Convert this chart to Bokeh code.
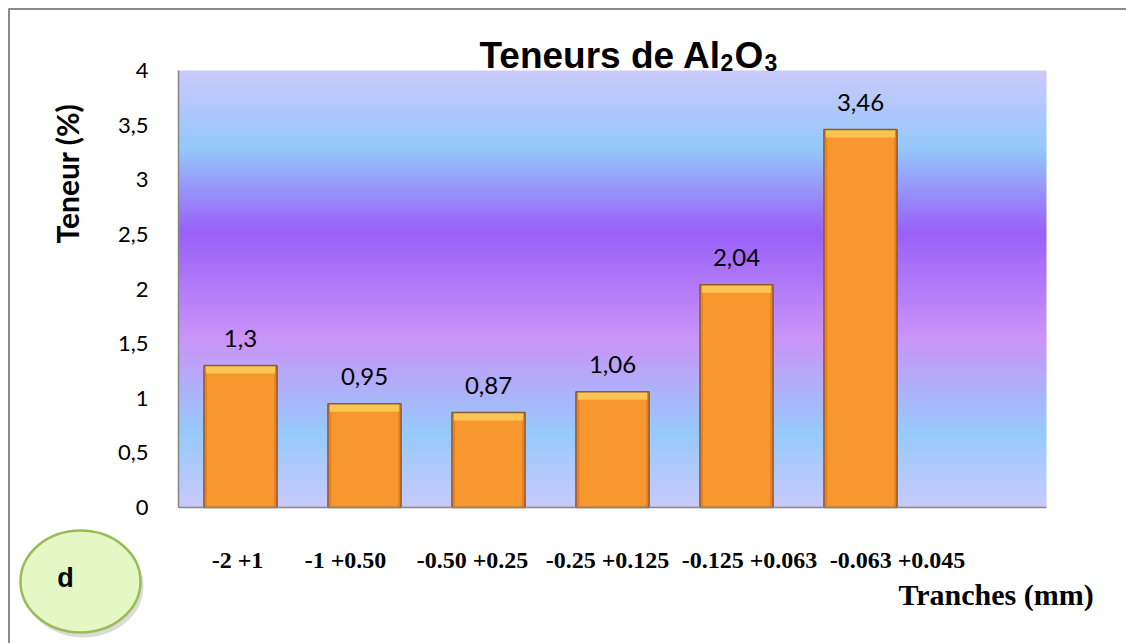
import math
import numpy as np
from bokeh.plotting import figure
from bokeh.models import Range1d, FixedTicker, CustomJSTickFormatter, ColumnDataSource
from bokeh.core.properties import value
from bokeh.embed import file_html
from bokeh.resources import INLINE

# ---------------- data ----------------
categories = ["-2  +1", "-1 +0.50", "-0.50 +0.25", "-0.25 +0.125",
              "-0.125 +0.063", "-0.063 +0.045"]
teneurs = [1.3, 0.95, 0.87, 1.06, 2.04, 3.46]
teneur_labels = ["1,3", "0,95", "0,87", "1,06", "2,04", "3,46"]
y_ticks = [0, 0.5, 1, 1.5, 2, 2.5, 3, 3.5, 4]
n_slots = 7  # Excel category slots (last one empty)

# ---------------- layout (page pixels) ----------------
W, H = 1126, 643
FL, FR, FT, FB = 178, 1046, 70, 507   # plot area on the page
YMAX = 4.0


def dx(px):
    return (px - FL) / (FR - FL) * n_slots


def dy(py):
    return (FB - py) / (FB - FT) * YMAX


UX = n_slots / (FR - FL)   # data units per pixel, x
UY = YMAX / (FB - FT)      # data units per pixel, y

p = figure(width=W, height=H, output_backend="svg", toolbar_location=None,
           x_range=Range1d(dx(0), dx(W)), y_range=Range1d(dy(H), dy(0)),
           min_border=0)
p.outline_line_color = None
p.grid.visible = False
p.background_fill_color = "white"
p.border_fill_color = "white"

# outer chart border (top and left edges visible)
p.segment(x0=[dx(8), dx(8.5)], y0=[dy(8.5), dy(8)],
          x1=[dx(W), dx(8.5)], y1=[dy(8.5), dy(H)],
          line_color="#8a8a8a", line_width=2)

# ---------------- background gradient of plot area ----------------
stops = [(0.0, "#c8cafc"), (0.69, "#97cafb"), (1.55, "#cb94f8"),
         (2.52, "#9a60f8"), (3.29, "#95c8fb"), (4.0, "#cccafc")]
N = 400
ys = np.linspace(0, YMAX, N)
sp = np.array([s[0] for s in stops])
rgb = np.array([[int(c[i:i + 2], 16) for i in (1, 3, 5)] for _, c in stops], float)
img = np.empty((N, 1), dtype=np.uint32)
view = img.view(dtype=np.uint8).reshape((N, 1, 4))
for ch in range(3):
    view[:, 0, ch] = np.interp(ys, sp, rgb[:, ch]).astype(np.uint8)
view[:, 0, 3] = 255
p.image_rgba(image=[img], x=0, y=0, dw=n_slots, dh=YMAX)

# ---------------- bars ----------------
xs = [i + 0.5 for i in range(len(teneurs))]
bw = 0.59
src = ColumnDataSource(dict(x=xs, top=teneurs, lab=teneur_labels,
                            hl_bottom=[v - 8 * UY for v in teneurs],
                            lab_y=[v + 27 * UY for v in teneurs]))
p.vbar(x="x", top="top", bottom=0, width=bw, source=src,
       fill_color="#e5812a", line_color=None)
p.vbar(x="x", top="top", bottom=0, width=bw - 6 * UX, source=src,
       fill_color="#f8972e", line_color=None)
p.vbar(x="x", top="top", bottom="hl_bottom", width=bw - 4 * UX, source=src,
       fill_color="#fcc452", line_color=None)
p.vbar(x="x", top="top", bottom=0, width=bw, source=src,
       fill_color=None, line_color="#8c5c30", line_width=1.5)

p.text(x="x", y="lab_y", text="lab", source=src, text_align="center",
       text_baseline="middle", text_font=value("Lato"), text_font_size="24px",
       text_color="black")

# ---------------- axes ----------------
yax = p.yaxis[0]
yax.fixed_location = 0
yax.bounds = (0, YMAX)
yax.ticker = FixedTicker(ticks=y_ticks)
yax.formatter = CustomJSTickFormatter(code="return tick.toString().replace('.', ',')")
yax.major_tick_line_color = None
yax.minor_tick_line_color = None
yax.axis_line_color = "#868686"
yax.axis_line_width = 1.5
yax.major_label_text_font = "Lato"
yax.major_label_text_font_size = "22px"
yax.major_label_text_color = "black"
yax.major_label_standoff = 24

# category labels (a typed text line under the chart, not centred on bars)
label_centers_px = [240, 345, 472, 607, 749, 897]
x_ticks = [round(dx(c), 4) for c in label_centers_px]
xax = p.xaxis[0]
xax.fixed_location = 0
xax.bounds = (0, n_slots)
xax.ticker = FixedTicker(ticks=x_ticks)
xax.major_label_overrides = {t: c for t, c in zip(x_ticks, categories)}
xax.major_tick_line_color = None
xax.minor_tick_line_color = None
xax.axis_line_color = "#868686"
xax.axis_line_width = 1.5
xax.major_label_text_font = "Liberation Serif"
xax.major_label_text_font_style = "bold"
xax.major_label_text_font_size = "24px"
xax.major_label_text_color = "black"
xax.major_label_standoff = 33

# ---------------- titles ----------------
TF = value("Liberation Sans")
title_parts = ["Teneurs de Al", "2", "O", "3"]
title_px = [479, 720, 734, 764]
title_py = [55, 62, 55, 62]
title_fs = ["37px", "23px", "37px", "23px"]
p.text(x=[dx(v) for v in title_px], y=[dy(v) for v in title_py], text=title_parts,
       text_font=TF, text_font_style="bold", text_font_size=title_fs,
       text_align="left", text_baseline="alphabetic", text_color="black")

p.text(x=[dx(66)], y=[dy(173)], text=["Teneur (%)"], angle=math.pi / 2,
       text_font=value("Lato"), text_font_style="bold", text_font_size="30px",
       text_align="center", text_baseline="middle", text_color="black")

p.text(x=[dx(898)], y=[dy(594)], text=["Tranches  (mm)"],
       text_font=value("Liberation Serif"), text_font_style="bold",
       text_font_size="30px", text_align="left", text_baseline="middle",
       text_color="black")

# ---------------- "d" badge ----------------
ecx, ecy, erx, ery = 80, 581, 60, 51
p.ellipse(x=[dx(ecx + 3)], y=[dy(ecy + 5)], width=2 * erx * UX, height=2 * ery * UY,
          fill_color="#888888", fill_alpha=0.3, line_color=None)
p.ellipse(x=[dx(ecx)], y=[dy(ecy)], width=2 * erx * UX, height=2 * ery * UY,
          fill_color="#e4f8c6", line_color="#9bbb59", line_width=2.5)
p.text(x=[dx(65)], y=[dy(577)], text=["d"], text_font=TF, text_font_style="bold",
       text_font_size="27px", text_align="center", text_baseline="middle",
       text_color="black")

open("out.html", "w").write(file_html(p, INLINE))
